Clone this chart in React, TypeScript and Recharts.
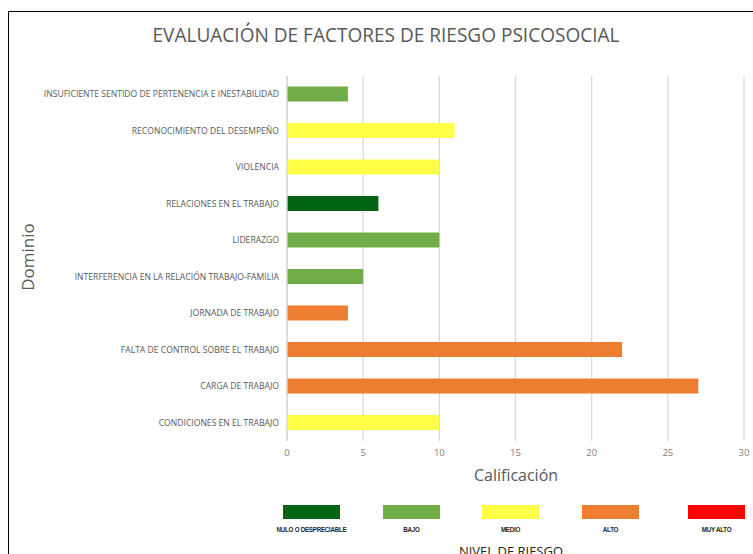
import React from 'react';
import { BarChart, Bar, XAxis, YAxis, CartesianGrid, Cell } from 'recharts';

const dominios = [
  'INSUFICIENTE SENTIDO DE PERTENENCIA E INESTABILIDAD',
  'RECONOCIMIENTO DEL DESEMPEÑO',
  'VIOLENCIA',
  'RELACIONES EN EL TRABAJO',
  'LIDERAZGO',
  'INTERFERENCIA EN LA RELACIÓN TRABAJO-FAMILIA',
  'JORNADA DE TRABAJO',
  'FALTA DE CONTROL SOBRE EL TRABAJO',
  'CARGA DE TRABAJO',
  'CONDICIONES EN EL TRABAJO',
];
const calificaciones = [4, 11, 10, 6, 10, 5, 4, 22, 27, 10];
const nivelPorDominio = ['BAJO', 'MEDIO', 'MEDIO', 'NULO', 'BAJO', 'BAJO', 'ALTO', 'ALTO', 'ALTO', 'MEDIO'];

const niveles = ['NULO', 'BAJO', 'MEDIO', 'ALTO', 'MUY ALTO'];
const nivelEtiquetas = ['NULO O DESPRECIABLE', 'BAJO', 'MEDIO', 'ALTO', 'MUY ALTO'];
const nivelColores = ['#006414', '#70ad47', '#ffff47', '#ed7d31', '#ff0000'];
const xTicks = [0, 5, 10, 15, 20, 25, 30];

const data = dominios.map((d, i) => ({ dominio: d, valor: calificaciones[i], nivel: nivelPorDominio[i] }));
const colorDe = (n: string) => nivelColores[niveles.indexOf(n)];

// legend swatch left edges
const swatchX = [283, 383, 482, 582, 688];

const DominioTick = (props: any) => {
  const { x, y, payload } = props;
  return (
    <text x={x} y={y} dy={3} textAnchor="end" fontSize={8.6} fill="#595959" fontFamily="Open Sans, sans-serif">
      {payload.value}
    </text>
  );
};

const NivelLegend = () => (
  <svg width={753} height={554} style={{ position: 'absolute', left: 0, top: 0, pointerEvents: 'none' }}>
    {niveles.map((n, i) => (
      <g key={n}>
        <rect x={swatchX[i]} y={505} width={57} height={14} fill={nivelColores[i]} />
        <text
          x={swatchX[i] + 28.5}
          y={532}
          textAnchor="middle"
          fontSize={6.3}
          fontWeight="bold"
          letterSpacing={-0.3}
          fill="#262626"
          fontFamily="Liberation Sans, Arial, sans-serif"
        >
          {nivelEtiquetas[i]}
        </text>
      </g>
    ))}
    <text x={511} y={556} textAnchor="middle" fontSize={13} fill="#262626" fontFamily="Open Sans, sans-serif">
      NIVEL DE RIESGO
    </text>
  </svg>
);

export default function App() {
  return (
    <div style={{ position: 'absolute', left: 0, top: 0, width: 753, height: 554, background: '#fff', overflow: 'hidden' }}>
      <div style={{ position: 'absolute', left: 8, top: 11, width: 760, height: 560, borderLeft: '1.5px solid #000', borderTop: '1.5px solid #000' }} />
      <div style={{ position: 'absolute', left: 0, top: 0 }}>
        <BarChart
          width={753}
          height={554}
          data={data}
          layout="vertical"
          margin={{ top: 76, right: 9, left: 0, bottom: 83 }}
          barCategoryGap="29%"
        >
          <text x={386} y={42} textAnchor="middle" fontSize={20} fill="#595959" fontFamily="Open Sans, sans-serif" textLength={467} lengthAdjust="spacingAndGlyphs">
            EVALUACIÓN DE FACTORES DE RIESGO PSICOSOCIAL
          </text>
          <text
            x={0}
            y={0}
            transform="translate(34 257) rotate(-90)"
            textAnchor="middle"
            fontSize={17}
            fill="#595959"
            fontFamily="Open Sans, sans-serif"
          >
            Dominio
          </text>
          <text x={516} y={481} textAnchor="middle" fontSize={16} fill="#595959" fontFamily="Open Sans, sans-serif">
            Calificación
          </text>
          <CartesianGrid horizontal={false} stroke="#d9d9d9" strokeWidth={1.3} />
          <XAxis
            type="number"
            domain={[0, 30]}
            ticks={xTicks}
            height={30}
            axisLine={false}
            tickLine={false}
            tick={{ fontSize: 9.5, fill: '#7f7f7f', fontFamily: 'Open Sans, sans-serif' }}
          />
          <YAxis
            type="category"
            dataKey="dominio"
            width={287}
            interval={0}
            axisLine={{ stroke: '#d9d9d9', strokeWidth: 1.3 }}
            tickLine={false}
            tick={<DominioTick />}
          />
          <Bar dataKey="valor" isAnimationActive={false}>
            {data.map((d) => (
              <Cell key={d.dominio} fill={colorDe(d.nivel)} />
            ))}
          </Bar>
        </BarChart>
      </div>
      <NivelLegend />
    </div>
  );
}
